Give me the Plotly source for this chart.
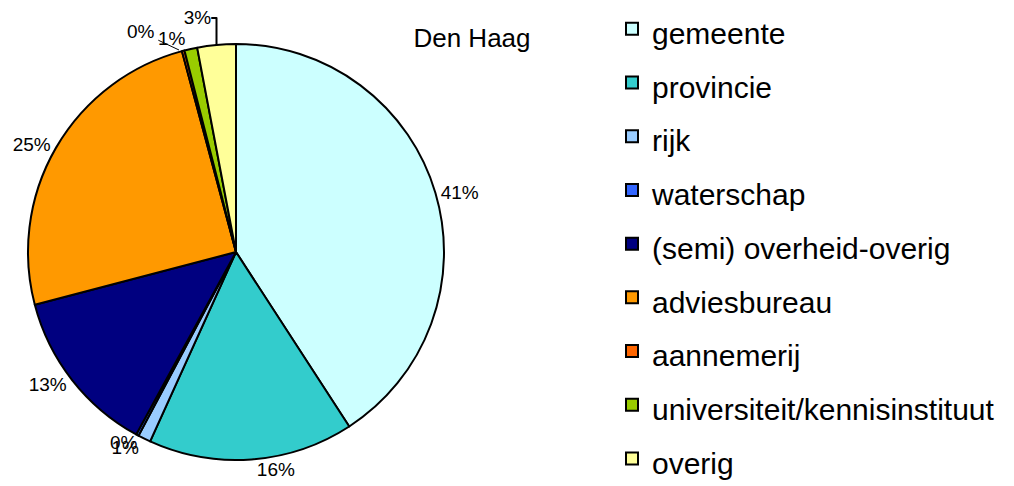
import plotly.graph_objects as go

categories = ["gemeente", "provincie", "rijk", "waterschap", "(semi) overheid-overig",
              "adviesbureau", "aannemerij", "universiteit/kennisinstituut", "overig"]
values = [41, 16, 1, 0.2, 13, 25, 0.2, 1, 3]
colors = ["#CCFFFF", "#33CCCC", "#99CCFF", "#3366FF", "#000080",
          "#FF9900", "#FF6600", "#99CC00", "#FFFF99"]
title_text = "Den Haag"

# page body has an 8px margin in the browser; compensate
OFF = 8
W, H = 1014, 486

legend_labels = ["<span style='font-size:30px'>%s</span>" % c for c in categories]
total = sum(values)
small = [v < 0.5 for v in values]
templates = ["" if s else "%{percent:.0%}" for s in small]

cx, cy, r = 236 - OFF, 252 - OFF, 208

fig = go.Figure(go.Pie(
    labels=legend_labels,
    values=values,
    sort=False,
    direction="clockwise",
    rotation=0,
    marker=dict(colors=colors, line=dict(color="black", width=2)),
    textposition="outside",
    textinfo="none",
    texttemplate=templates,
    textfont=dict(family="Liberation Sans, Arial", size=19, color="black"),
    domain=dict(x=[(cx - r) / W, (cx + r) / W],
                y=[(H - cy - r) / H, (H - cy + r) / H]),
    showlegend=True,
))

# labels for the near-zero slices
zero_labels = ["%d%%" % round(100 * values[i] / total) for i in range(len(values)) if small[i]]
fig.add_annotation(text=zero_labels[0], xref="paper", yref="paper",
                   x=(108 - OFF) / W, y=1 - (455 - OFF) / H, showarrow=False,
                   font=dict(size=19, family="Liberation Sans, Arial", color="black"))
fig.add_annotation(text=zero_labels[1], xref="paper", yref="paper",
                   x=(179 - OFF) / W, y=1 - (50 - OFF) / H,
                   ax=-38, ay=-18, showarrow=True, arrowhead=0, arrowwidth=1,
                   arrowcolor="black", standoff=0, startstandoff=2,
                   font=dict(size=19, family="Liberation Sans, Arial", color="black"))

fig.update_layout(
    width=W, height=H,
    margin=dict(l=0, r=0, t=0, b=0, autoexpand=False),
    paper_bgcolor="white", plot_bgcolor="white",
    font=dict(family="Liberation Sans, Arial", color="black"),
    title=dict(text=title_text, x=(472 - OFF) / W, xanchor="center",
               y=1 - (38 - OFF) / H, yanchor="middle",
               font=dict(size=26, family="Liberation Sans, Arial", color="black")),
    legend=dict(x=604 / W, xanchor="left", y=1 + 11 / H, yanchor="top",
                font=dict(size=39, family="Liberation Sans, Arial", color="black"),
                bgcolor="rgba(0,0,0,0)", borderwidth=0, maxheight=700),
)

fig.write_html("out.html")
